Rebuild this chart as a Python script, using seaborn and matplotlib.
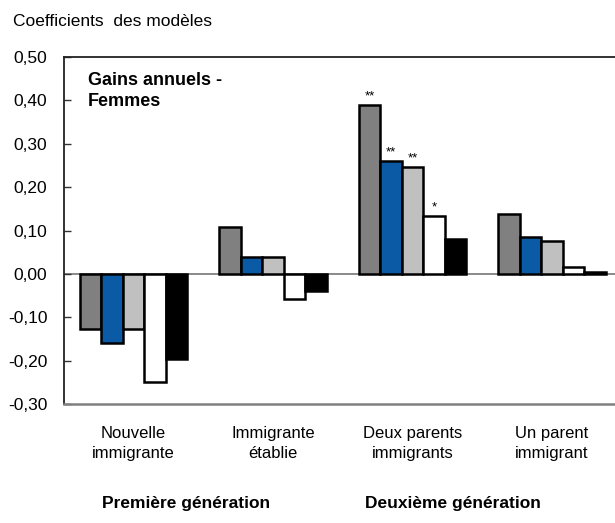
import pandas as pd
import matplotlib
matplotlib.use("Agg")
import matplotlib.pyplot as plt
import matplotlib.transforms as mtransforms
import seaborn as sns

# data
categories = ["Nouvelle\nimmigrante", "Immigrante\nétablie",
              "Deux parents\nimmigrants", "Un parent\nimmigrant"]
models = ["Modèle 1", "Modèle 2", "Modèle 3", "Modèle 4", "Modèle 5"]
coef_m1 = [-0.127, 0.108, 0.389, 0.138]
coef_m2 = [-0.159, 0.039, 0.260, 0.085]
coef_m3 = [-0.127, 0.039, 0.246, 0.076]
coef_m4 = [-0.249, -0.058, 0.134, 0.016]
coef_m5 = [-0.196, -0.039, 0.081, 0.005]
# significance marks, same layout as the coefficients
sig_m1 = ["", "", "**", ""]
sig_m2 = ["", "", "**", ""]
sig_m3 = ["", "", "**", ""]
sig_m4 = ["", "", "*", ""]
sig_m5 = ["", "", "", ""]
yticks = [-0.30, -0.20, -0.10, 0.00, 0.10, 0.20, 0.30, 0.40, 0.50]
groups = ["Première génération", "Deuxième génération"]

colors = ["#808080", "#0a5aa5", "#c0c0c0", "#ffffff", "#000000"]

all_coef = [coef_m1, coef_m2, coef_m3, coef_m4, coef_m5]
all_sig = [sig_m1, sig_m2, sig_m3, sig_m4, sig_m5]
rows = []
for m, vals, sigs in zip(models, all_coef, all_sig):
    for c, v, s in zip(categories, vals, sigs):
        rows.append({"categorie": c, "modele": m, "coef": v, "sig": s})
df = pd.DataFrame(rows)

sns.set_style("white")
plt.rcParams['font.family'] = ['Liberation Sans', 'DejaVu Sans']
plt.rcParams['text.color'] = 'black'
plt.rcParams['xtick.color'] = 'black'
plt.rcParams['ytick.color'] = 'black'

fig = plt.figure(figsize=(6.15, 5.23), dpi=100)
ax = fig.add_axes([0.104, 0.2275, 0.907, 0.6635])

sns.barplot(df, x="categorie", y="coef", hue="modele", order=categories,
            hue_order=models, palette=colors, width=0.77,
            edgecolor="black", linewidth=1.8, legend=False, ax=ax,
            errorbar=None, saturation=1)

# significance stars on top of bars
for cont, m in zip(ax.containers, models):
    sub = df[df["modele"] == m].set_index("categorie").loc[categories]
    for bar, s in zip(cont, sub["sig"]):
        if s:
            ax.annotate(s, (bar.get_x() + bar.get_width() / 2, bar.get_height()),
                        xytext=(0, 2), textcoords="offset points",
                        ha="center", va="bottom", fontsize=9.5)

ax.axhline(0, color="#808080", lw=1.3, zorder=0)
ax.set_xlim(-0.5, 3.5)
ax.set_ylim(-0.30, 0.50)
ax.set_yticks(yticks)
ax.set_yticklabels([f"{v:.2f}".replace(".", ",") for v in yticks])
ax.tick_params(axis="y", direction="in", length=5, width=1, color="#333333",
               pad=12, labelsize=12.5, left=True, labelcolor="black")
ax.tick_params(axis="x", length=0, pad=16, labelsize=12, labelcolor="black")
for lbl in ax.get_xticklabels():
    lbl.set_linespacing(1.4)
ax.set_xlabel(None)
ax.set_ylabel(None)

for side in ["top", "left"]:
    ax.spines[side].set_color("#222222")
    ax.spines[side].set_linewidth(1.3)
ax.spines["bottom"].set_color("#808080")
ax.spines["bottom"].set_linewidth(1.8)
ax.spines["right"].set_visible(False)

ax.text(0.043, 0.957, "Gains annuels -\nFemmes", transform=ax.transAxes,
        fontsize=13, fontweight="bold", va="top", ha="left", linespacing=1.35)

fig.text(0.021, 0.958, "Coefficients  des modèles", fontsize=12.5,
         va="center", ha="left")

trans = mtransforms.blended_transform_factory(ax.transData, fig.transFigure)
ax.text(0.377, 0.038, groups[0], transform=trans, fontsize=12.5,
        fontweight="bold", ha="center", va="center")
ax.text(2.286, 0.038, groups[1], transform=trans, fontsize=12.5,
        fontweight="bold", ha="center", va="center")

plt.savefig("out.png", dpi=100)
